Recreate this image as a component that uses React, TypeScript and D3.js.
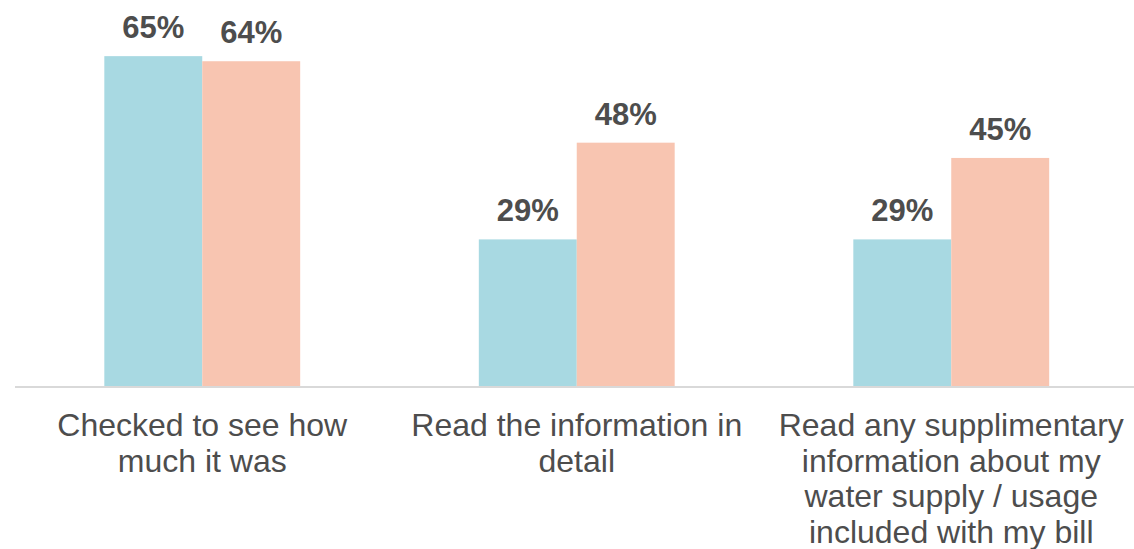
import React from "react";
import * as d3 from "d3";

const categories: string[][] = [
  ["Checked to see how", "much it was"],
  ["Read the information in", "detail"],
  ["Read any supplimentary", "information about my", "water supply / usage", "included with my bill"],
];
const series1: number[] = [65, 29, 29];
const series2: number[] = [64, 48, 45];
const seriesColors = ["#A8D9E2", "#F8C5B1"];

const W = 1134;
const H = 549;

export default function App() {
  const keys = categories.map((_, i) => String(i));
  const x = d3.scaleBand<string>().domain(keys).range([15, 1138.5]).paddingInner(0.477).paddingOuter(0.2385);
  const inner = d3.scaleBand<string>().domain(["a", "b"]).range([0, x.bandwidth()]);
  const y = d3.scaleLinear().domain([0, 70]).range([387, 387 - 70 * 5.09]);
  const textColor = "#4D4D4D";
  const fontFamily = "'Liberation Sans', Arial, sans-serif";
  const all = [series1, series2];

  return (
    <svg width={W} height={H} style={{ position: "absolute", left: 0, top: 0 }}>
      <rect width={W} height={H} fill="#fff" />
      {keys.map((k, i) => (
        <g key={k}>
          {all.map((s, si) => {
            const bx = (x(k) as number) + (inner(si === 0 ? "a" : "b") as number);
            const bw = inner.bandwidth();
            return (
              <g key={si}>
                <rect x={bx} y={y(s[i])} width={bw} height={y(0) - y(s[i])} fill={seriesColors[si]} />
                <text
                  x={bx + bw / 2}
                  y={y(s[i]) - 18}
                  textAnchor="middle"
                  fontFamily={fontFamily}
                  fontWeight="bold"
                  fontSize={31}
                  fill={textColor}
                >
                  {s[i]}%
                </text>
              </g>
            );
          })}
          <text textAnchor="middle" fontFamily={fontFamily} fontSize={32} fill={textColor}>
            {categories[i].map((line, li) => (
              <tspan key={li} x={(x(k) as number) + x.bandwidth() / 2} y={436 + li * 35.5}>
                {line}
              </tspan>
            ))}
          </text>
        </g>
      ))}
      <line x1={15} x2={W} y1={387} y2={387} stroke="#D9D9D9" strokeWidth={2} />
    </svg>
  );
}
